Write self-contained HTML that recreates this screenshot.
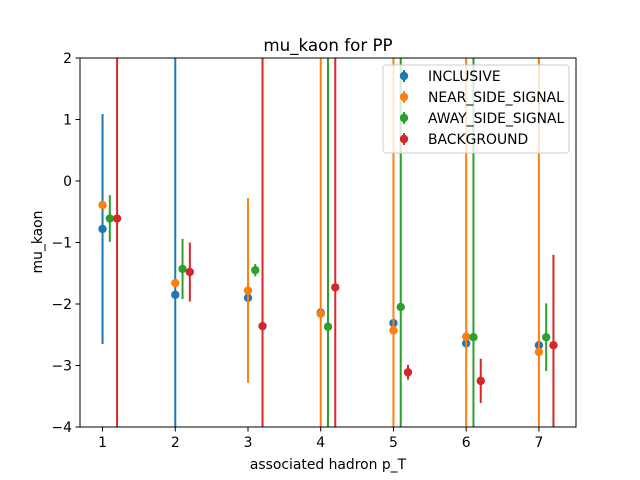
<!DOCTYPE html>
<html><head><meta charset="utf-8"><style>
html,body{margin:0;padding:0;background:#fff;overflow:hidden;width:640px;height:480px}
svg{display:block}
svg text{font-family:"DejaVu Sans","Liberation Sans",sans-serif;fill:#000}
</style></head><body>
<svg id="chart" width="640" height="480" viewBox="0 0 640 480" xmlns="http://www.w3.org/2000/svg">
<rect width="640" height="480" fill="#fff"/>
<text x="328" y="51" font-size="16.7" text-anchor="middle">mu_kaon for PP</text>
<g id="plot"></g>
<g id="axes"></g>
<text x="328" y="469" font-size="13.9" text-anchor="middle">associated hadron p_T</text>
<text transform="translate(42,242) rotate(-90)" font-size="13.9" text-anchor="middle">mu_kaon</text>
<g id="legend"></g>
</svg>
<script>
const pT = [1,2,3,4,5,6,7];
const seriesNames = ["INCLUSIVE","NEAR_SIDE_SIGNAL","AWAY_SIDE_SIGNAL","BACKGROUND"];
const seriesOffsets = [0,0,0.1,0.2];
const colors = ["#1f77b4","#ff7f0e","#2ca02c","#d62728"];
const inclusiveVals = [-0.78,-1.85,-1.90,-2.14,-2.31,-2.64,-2.67];
const inclusiveErr = [1.87,10,0.03,0.03,0.03,0.03,0.03];
const nearVals = [-0.39,-1.66,-1.78,-2.16,-2.43,-2.53,-2.78];
const nearErr = [0.05,0.05,1.5,10,10,10,10];
const awayVals = [-0.61,-1.43,-1.45,-2.37,-2.05,-2.54,-2.54];
const awayErr = [0.38,0.49,0.1,10,10,10,0.55];
const bgVals = [-0.61,-1.48,-2.36,-1.73,-3.11,-3.25,-2.67];
const bgErr = [10,0.48,10,10,0.12,0.36,1.47];
const xTicks = [1,2,3,4,5,6,7];
const yTicks = [-4,-3,-2,-1,0,1,2];

const L=80,R=576,T=58,B=427, xMin=0.69,xMax=7.51,yMin=-4,yMax=2;
const sx=v=>L+(v-xMin)/(xMax-xMin)*(R-L);
const sy=v=>B-(v-yMin)/(yMax-yMin)*(B-T);
const NS="http://www.w3.org/2000/svg";
function mk(tag,attrs,parent){const e=document.createElementNS(NS,tag);for(const k in attrs)e.setAttribute(k,attrs[k]);parent.appendChild(e);return e;}
const plot=document.getElementById('plot'),axes=document.getElementById('axes'),legend=document.getElementById('legend');
const clip=mk('clipPath',{id:'cp'},plot);mk('rect',{x:L,y:T,width:R-L,height:B-T},clip);
const g=mk('g',{'clip-path':'url(#cp)'},plot);
const allVals=[inclusiveVals,nearVals,awayVals,bgVals], allErr=[inclusiveErr,nearErr,awayErr,bgErr];
allVals.forEach((vals,s)=>{
  vals.forEach((v,i)=>{
    const x=sx(pT[i]+seriesOffsets[s]);
    const ln=mk('line',{x1:x,x2:x,y1:sy(v+allErr[s][i]),y2:sy(v-allErr[s][i]),stroke:colors[s],'stroke-width':2},g);
    
    
    const c=mk('circle',{cx:x,cy:sy(v),r:4.2,fill:colors[s]},g);
    
    
  });
});
mk('rect',{x:L,y:T,width:R-L,height:B-T,fill:'none',stroke:'#000','stroke-width':1},axes);
xTicks.forEach(t=>{const x=sx(t);mk('line',{x1:x,x2:x,y1:B,y2:B+4.5,stroke:'#000'},axes);
  const tx=mk('text',{x:x,y:B+20,'font-size':13.9,'text-anchor':'middle'},axes);tx.textContent=t;
  
  });
yTicks.forEach(t=>{const y=sy(t);mk('line',{x1:L-4.5,x2:L,y1:y,y2:y,stroke:'#000'},axes);
  const tx=mk('text',{x:L-8,y:y+5,'font-size':13.9,'text-anchor':'end'},axes);tx.textContent=(t<0?'\u2212'+(-t):t);
  
  });
mk('rect',{x:383,y:65,width:186,height:88,rx:3,fill:'#fff','fill-opacity':0.8,stroke:'#ccc'},legend);
seriesNames.forEach((n,i)=>{const y=76+i*21;
  const eg=mk('g',{},legend);
  
  
  mk('line',{x1:404,x2:404,y1:y-6,y2:y+6,stroke:colors[i],'stroke-width':2},eg);
  mk('circle',{cx:404,cy:y,r:4.2,fill:colors[i]},eg);
  const t=mk('text',{x:428,y:y+5,'font-size':13.9},eg);t.textContent=n;});
</script>
</body></html>
